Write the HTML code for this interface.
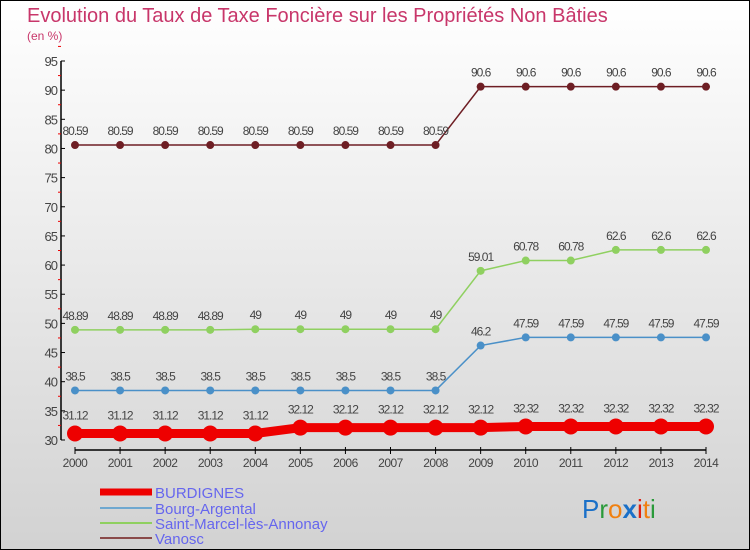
<!DOCTYPE html>
<html><head><meta charset="utf-8"><style>
body{margin:0;width:750px;height:550px;overflow:hidden;font-family:"Liberation Sans",sans-serif}
#c{position:absolute;left:0;top:0;width:748px;height:548px;border:1px solid #000;background:linear-gradient(#ffffff,#d2d2d2)}
</style></head><body>
<div id="c">
<svg id="s" width="750" height="550" style="position:absolute;left:-1px;top:-1px">
<text x="27" y="22" font-size="20" fill="#c8366a">Evolution du Taux de Taxe Foncière sur les Propriétés Non Bâties</text>
<text x="27" y="40" font-size="12" fill="#c8366a">(en %)</text>
<g id="axes"></g><g id="series"></g>
<g>
<line x1="100" y1="492" x2="152" y2="492" stroke="#ee0000" stroke-width="7"/>
<text x="155" y="498" font-size="15" fill="#6666ee">BURDIGNES</text>
<line x1="100" y1="508" x2="152" y2="508" stroke="#6fa8d0" stroke-width="2"/>
<text x="155" y="514" font-size="15" fill="#6666ee">Bourg-Argental</text>
<line x1="100" y1="523" x2="152" y2="523" stroke="#8fd060" stroke-width="2"/>
<text x="155" y="529" font-size="15" fill="#6666ee">Saint-Marcel-lès-Annonay</text>
<line x1="100" y1="538" x2="152" y2="538" stroke="#8a4a4a" stroke-width="2"/>
<text x="155" y="544" font-size="15" fill="#6666ee">Vanosc</text>
</g>
<text x="582" y="518" font-size="26" font-family="Liberation Sans"><tspan fill="#1a70c8">P</tspan><tspan fill="#2a9a3a">r</tspan><tspan fill="#f08010">o</tspan><tspan fill="#1a70c8" font-weight="bold">x</tspan><tspan fill="#e02010">i</tspan><tspan fill="#f08010">t</tspan><tspan fill="#2a9a3a">i</tspan></text>
</svg></div>
<script>
const years=[2000,2001,2002,2003,2004,2005,2006,2007,2008,2009,2010,2011,2012,2013,2014];
const burdignes=[31.12,31.12,31.12,31.12,31.12,32.12,32.12,32.12,32.12,32.12,32.32,32.32,32.32,32.32,32.32];
const bourg=[38.5,38.5,38.5,38.5,38.5,38.5,38.5,38.5,38.5,46.2,47.59,47.59,47.59,47.59,47.59];
const stmarcel=[48.89,48.89,48.89,48.89,49,49,49,49,49,59.01,60.78,60.78,62.6,62.6,62.6];
const vanosc=[80.59,80.59,80.59,80.59,80.59,80.59,80.59,80.59,80.59,90.6,90.6,90.6,90.6,90.6,90.6];
const yTicks=[30,35,40,45,50,55,60,65,70,75,80,85,90,95];
const NS="http://www.w3.org/2000/svg";
const X=i=>75+i*(706-75)/(years.length-1);
const Y=v=>440-(v-30)*(379/65);
function mk(t,a,p){const e=document.createElementNS(NS,t);for(const k in a)e.setAttribute(k,a[k]);p.appendChild(e);return e;}
const ax=document.getElementById('axes'),sg=document.getElementById('series');
const yl=mk('line',{x1:61,y1:Y(95),x2:61,y2:Y(30),stroke:'#000','stroke-width':1.5},ax);


yTicks.forEach(v=>{
 mk('line',{x1:61,y1:Y(v),x2:65,y2:Y(v),stroke:'#000'},ax);
 mk('line',{x1:58,y1:Y(v+2.5),x2:61,y2:Y(v+2.5),stroke:'#e00'},ax);
 const t=mk('text',{x:57,y:Y(v)+5,'font-size':13,fill:'#444','text-anchor':'end','letter-spacing':'-1'},ax);t.textContent=v;
 
 
});
const xl=mk('line',{x1:X(0),y1:450,x2:X(years.length-1),y2:450,stroke:'#000','stroke-width':1.5},ax);


years.forEach((y,i)=>{
 mk('line',{x1:X(i),y1:447,x2:X(i),y2:454,stroke:'#000'},ax);
 const t=mk('text',{x:X(i),y:467,'font-size':12,fill:'#444','text-anchor':'middle','letter-spacing':'-0.5'},ax);t.textContent=y;
 
 
});
function series(vals,color,w,r,name){
 const g=mk('g',{},sg);
 
 
 mk('polyline',{points:vals.map((v,i)=>X(i)+','+Y(v)).join(' '),fill:'none',stroke:color,'stroke-width':w},g);
 vals.forEach((v,i)=>{
  const c=mk('circle',{cx:X(i),cy:Y(v),r:r,fill:color},g);
  
  
  const t=mk('text',{x:X(i),y:Y(v)-(r+6),'font-size':12,fill:'#444','text-anchor':'middle','letter-spacing':'-1'},g);t.textContent=v;
  
  
 });
}
series(vanosc,'#6e1e24',1.5,4,'vanosc-series');
series(stmarcel,'#8fd060',1.5,4,'saint-marcel-series');
series(bourg,'#4a90c8',1.5,4,'bourg-argental-series');
series(burdignes,'#ee0000',9,8,'burdignes-series');
</script>
</body></html>
